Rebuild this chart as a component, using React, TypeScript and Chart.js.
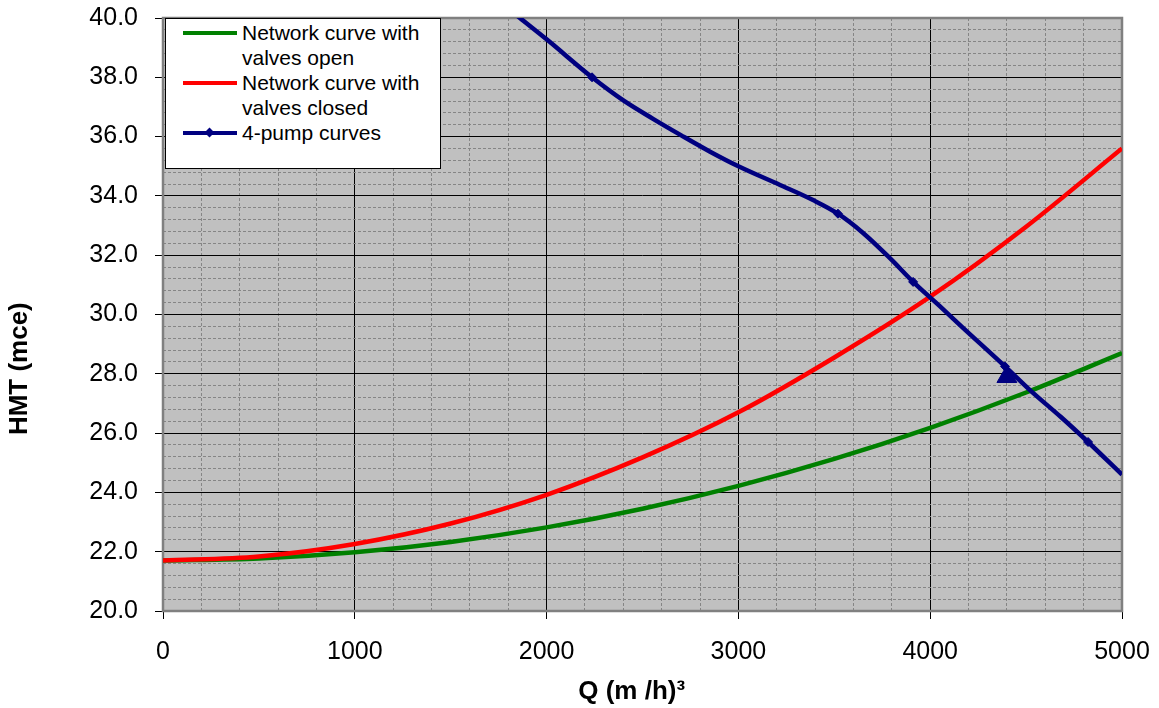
import React, { useEffect, useRef } from "react";
import { Chart, registerables } from "chart.js";

Chart.register(...registerables);

// ---- data ----
const SERIES_NAMES = [
  "Network curve with valves open",
  "Network curve with valves closed",
  "4-pump curves",
];
const SERIES_COLORS = ["#008000", "#FF0000", "#000080"];

const OPEN_Q = [0, 500, 1000, 1500, 2000, 2500, 3000, 3500, 4000, 4500, 5000];
const OPEN_H = [21.7, 21.77, 21.98, 22.33, 22.82, 23.45, 24.22, 25.13, 26.18, 27.37, 28.7];

const CLOSED_Q = [0, 500, 1000, 1500, 2000, 2500, 3000, 3500, 4000, 4500, 5000];
const CLOSED_H = [21.7, 21.84, 22.26, 22.95, 23.92, 25.18, 26.7, 28.55, 30.6, 32.96, 35.6];

const PUMP_Q = [1800, 1861, 2000, 2237, 2400, 2555, 2700, 2850, 3000, 3217, 3389, 3519, 3650, 3790, 3911, 4050, 4171, 4390, 4520, 4680, 4823, 5000];
const PUMP_H = [40.32, 40.0, 39.28, 38.0, 37.22, 36.6, 36.05, 35.5, 35.0, 34.37, 33.86, 33.4, 32.75, 31.9, 31.1, 30.28, 29.55, 28.25, 27.45, 26.55, 25.7, 24.6];
const PUMP_MARKED_Q = [2237, 3519, 3911, 4390, 4823];

const OPERATING_Q = [4400];
const OPERATING_H = [27.9];

const X_MIN = 0;
const X_MAX = 5000;
const X_MAJOR = 1000;
const X_MINOR = 200;
const Y_MIN = 20;
const Y_MAX = 40;
const Y_MAJOR = 2;
const Y_MINOR = 0.4;

const X_TITLE = "Q (m /h)³";
const Y_TITLE = "HMT (mce)";

const FONT = '"Liberation Sans", Arial, Helvetica, sans-serif';

const isMajor = (v: number, step: number) =>
  Math.abs(v / step - Math.round(v / step)) < 1e-6;

const toPoints = (xs: number[], ys: number[]) => xs.map((x, i) => ({ x, y: ys[i] }));

const zeroPads = (s: any) => {
  s.paddingTop = 0;
  s.paddingBottom = 0;
  s.paddingLeft = 0;
  s.paddingRight = 0;
};

const plotFrame = {
  id: "plotFrame",
  beforeDraw(chart: any) {
    const { ctx, chartArea } = chart;
    const { left, top, right, bottom } = chartArea;
    ctx.save();
    ctx.fillStyle = "#C0C0C0";
    ctx.fillRect(left, top, right - left, bottom - top);
    ctx.restore();
  },
  beforeDatasetsDraw(chart: any) {
    const { ctx, chartArea } = chart;
    const { left, top, right, bottom } = chartArea;
    ctx.save();
    ctx.strokeStyle = "#808080";
    ctx.lineWidth = 2.5;
    ctx.strokeRect(left, top, right - left, bottom - top);
    ctx.restore();
  },
};

export default function App() {
  const canvasRef = useRef<HTMLCanvasElement | null>(null);

  useEffect(() => {
    document.body.style.margin = "0";
    if (!canvasRef.current) return;
    Chart.defaults.font.family = FONT;
    Chart.defaults.color = "#000";

    const chart = new Chart(canvasRef.current, {
      type: "line",
      data: {
        datasets: [
          {
            label: SERIES_NAMES[0],
            data: toPoints(OPEN_Q, OPEN_H),
            borderColor: SERIES_COLORS[0],
            backgroundColor: SERIES_COLORS[0],
            borderWidth: 4.5,
            pointRadius: 0,
            cubicInterpolationMode: "monotone",
            clip: 0,
            order: 2,
          },
          {
            label: SERIES_NAMES[1],
            data: toPoints(CLOSED_Q, CLOSED_H),
            borderColor: SERIES_COLORS[1],
            backgroundColor: SERIES_COLORS[1],
            borderWidth: 4.5,
            pointRadius: 0,
            cubicInterpolationMode: "monotone",
            clip: 0,
            order: 1,
          },
          {
            label: SERIES_NAMES[2],
            data: toPoints(PUMP_Q, PUMP_H),
            borderColor: SERIES_COLORS[2],
            backgroundColor: SERIES_COLORS[2],
            borderWidth: 4.5,
            pointRadius: PUMP_Q.map((q) => (PUMP_MARKED_Q.includes(q) ? 4.5 : 0)),
            pointStyle: "rectRot",
            pointBackgroundColor: SERIES_COLORS[2],
            pointBorderColor: SERIES_COLORS[2],
            pointBorderWidth: 1,
            cubicInterpolationMode: "monotone",
            clip: 0,
            order: 0,
          },
          {
            label: "Operating point",
            data: toPoints(OPERATING_Q, OPERATING_H),
            showLine: false,
            pointStyle: "triangle",
            pointRadius: 11.5,
            pointBackgroundColor: "#000080",
            pointBorderColor: "#000080",
            pointBorderWidth: 1,
            borderColor: "#000080",
            backgroundColor: "#000080",
            clip: 0,
            order: 3,
          },
        ] as any,
      },
      options: {
        responsive: false,
        animation: false,
        events: [],
        layout: { autoPadding: false, padding: { left: 4, right: 37, top: 18, bottom: 0 } },
        plugins: {
          legend: { display: false },
          tooltip: { enabled: false },
          title: { display: false },
        },
        scales: {
          x: {
            type: "linear",
            min: X_MIN,
            max: X_MAX,
            ticks: {
              stepSize: X_MINOR,
              autoSkip: false,
              maxRotation: 0,
              minRotation: 0,
              padding: 18,
              color: "#000",
              font: { family: FONT, size: 25 },
              callback: (v: any) => (isMajor(Number(v), X_MAJOR) ? String(v) : ""),
            },
            grid: {
              color: (c: any) => (c.tick && isMajor(c.tick.value, X_MAJOR) ? "#000" : "#858585"),
              lineWidth: 1,
              tickLength: 8,
              tickColor: (c: any) => (c.tick && isMajor(c.tick.value, X_MAJOR) ? "#000" : "rgba(0,0,0,0)"),
            },
            border: {
              display: false,
              dash: (c: any) => (c.tick && isMajor(c.tick.value, X_MAJOR) ? [] : [3, 2]),
            },
            title: {
              display: true,
              text: X_TITLE + "   ",
              color: "#000",
              font: { family: FONT, size: 26, weight: "bold" },
              padding: { top: 0, bottom: 1 },
            },
            afterFit: (s: any) => {
              s.height = 97;
              zeroPads(s);
            },
          },
          y: {
            type: "linear",
            min: Y_MIN,
            max: Y_MAX,
            ticks: {
              stepSize: Y_MINOR,
              autoSkip: false,
              padding: 17,
              color: "#000",
              font: { family: FONT, size: 25 },
              callback: (v: any) => (isMajor(Number(v), Y_MAJOR) ? Number(v).toFixed(1) : ""),
            },
            grid: {
              color: (c: any) => (c.tick && isMajor(c.tick.value, Y_MAJOR) ? "#000" : "#858585"),
              lineWidth: 1,
              tickLength: 8,
              tickColor: (c: any) => (c.tick && isMajor(c.tick.value, Y_MAJOR) ? "#000" : "rgba(0,0,0,0)"),
            },
            border: {
              display: false,
              dash: (c: any) => (c.tick && isMajor(c.tick.value, Y_MAJOR) ? [] : [3, 2]),
            },
            title: {
              display: true,
              text: Y_TITLE + "               ",
              color: "#000",
              font: { family: FONT, size: 26, weight: "bold" },
              padding: { top: 0, bottom: 0 },
            },
            afterFit: (s: any) => {
              s.width = 159;
              zeroPads(s);
            },
          },
        },
      } as any,
      plugins: [plotFrame],
    });
    return () => chart.destroy();
  }, []);

  return (
    <div style={{ position: "fixed", left: 0, top: 0, width: 1159, height: 708, background: "#fff" }}>
      <canvas ref={canvasRef} width={1159} height={708} style={{ display: "block" }} />
      <div
        style={{
          position: "absolute",
          left: 165,
          top: 18,
          width: 276,
          height: 151,
          background: "#fff",
          border: "1px solid #000",
          boxSizing: "border-box",
          fontFamily: FONT,
          fontSize: 21,
          lineHeight: "25px",
          color: "#000",
          paddingTop: 1,
        }}
      >
        {SERIES_NAMES.map((name, i) => (
          <div key={name} style={{ position: "relative", paddingLeft: 76 }}>
            <div
              style={{
                position: "absolute",
                left: 17,
                top: 11,
                width: 54,
                height: 3.5,
                background: SERIES_COLORS[i],
              }}
            />
            {i === 2 && (
              <div
                style={{
                  position: "absolute",
                  left: 40,
                  top: 8.5,
                  width: 7,
                  height: 7,
                  background: SERIES_COLORS[i],
                  transform: "rotate(45deg)",
                }}
              />
            )}
            <div style={{ width: 190 }}>{name}</div>
          </div>
        ))}
      </div>
    </div>
  );
}
